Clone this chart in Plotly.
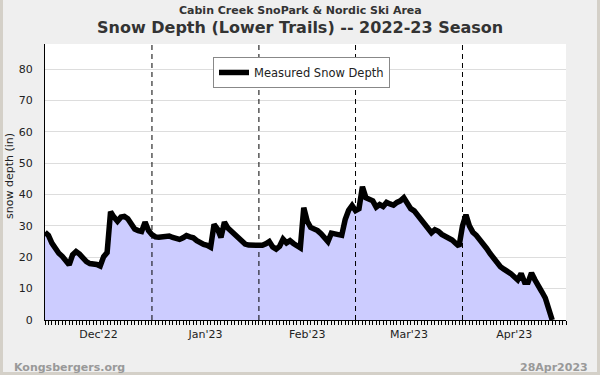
import plotly.graph_objects as go
import pandas as pd

# ---- data (daily snow depth, inches, starting 2022-12-01) ----
start_date = "2022-12-01"
snow_dec = [28, 27, 24.5, 22.5, 21.3, 20.3, 19.2, 17.6, 20.8, 21.8,
            21, 19.6, 18.6, 18, 17.9, 17.7, 17.2, 20.2, 21.5, 34.5,
            32.8, 31.5, 32.8, 33, 32.3, 30.5, 29, 28.5, 28.2, 31.2, 28.5]
snow_jan = [27.2, 26.5, 26.4, 26.4, 26.7, 26.8, 26.3, 26, 25.7, 26.2,
            26.9, 26.5, 26.2, 25.3, 24.6, 24.1, 23.8, 23.2, 30.5, 29,
            26.3, 31.2, 29.3, 28.2, 27.2, 26, 25, 24.2, 23.9, 23.8, 23.8]
snow_feb = [23.8, 23.8, 24.3, 25, 23.3, 22.6, 23.5, 25.8, 24.6, 25.3,
            24.4, 23.7, 23, 35.8, 31.5, 29.5, 29, 28.5, 27.5, 26,
            25, 27.7, 27.6, 27.4, 27, 32, 35, 36.5]
snow_mar = [34.9, 35.5, 42.5, 39, 38.5, 38, 36, 36.8, 36.2, 37.5,
            37, 36.6, 37.5, 38, 39, 37, 35.5, 34.8, 33.3, 31.8,
            30.2, 29, 27.8, 28.8, 28.3, 27.3, 26.8, 26.2, 25.5, 24.5, 23.5]
snow_apr = [30, 33.5, 30, 28, 27, 25.7, 24.5, 22.8, 21.2, 19.7,
            18, 17, 16.2, 15.6, 14.8, 13.8, 12.8, 14.8, 12, 12,
            15, 12.8, 10.5, 9, 7, 3.5, 0]
snow_depth = snow_dec + snow_jan + snow_feb + snow_mar + snow_apr
dates = pd.date_range(start_date, periods=len(snow_depth), freq="D")

month_starts = ["2023-01-01", "2023-02-01", "2023-03-01", "2023-04-01"]
x_range = ["2022-12-01", "2023-05-01"]
y_ticks = [0, 10, 20, 30, 40, 50, 60, 70, 80]
y_range = [0, 88]

FONT = "DejaVu Sans"

fig = go.Figure()
fig.add_trace(go.Scatter(
    x=dates, y=snow_depth, mode="lines", fill="tozeroy",
    fillcolor="#ccccff", line=dict(width=0, color="#ccccff"),
    showlegend=False, hoverinfo="skip"))
fig.add_trace(go.Scatter(
    x=dates, y=snow_depth, mode="lines",
    line=dict(color="black", width=5.5),
    name="Measured Snow Depth"))

for m in month_starts:
    fig.add_shape(type="line", xref="x", yref="paper", x0=m, x1=m, y0=0, y1=1,
                  line=dict(color="black", width=1, dash="5px,4px"), layer="above")

# outer border of the picture
fig.add_shape(type="rect", xref="paper", yref="paper",
              x0=-45/521, x1=555/521, y0=-55/276, y1=331/276,
              line=dict(color="#d4d0c8", width=6), fillcolor="rgba(0,0,0,0)", layer="below")

fig.update_layout(
    width=600, height=375,
    margin=dict(l=45, r=34, t=44, b=55, autoexpand=False),
    paper_bgcolor="#efefef", plot_bgcolor="white",
    font=dict(family=FONT, size=11, color="#222"),
    legend=dict(x=(213-45)/521, y=0.953, xanchor="left", yanchor="top",
                bgcolor="white", bordercolor="#888", borderwidth=1,
                font=dict(size=11.5, color="#222"), itemwidth=30),
    xaxis=dict(type="date", range=x_range, dtick="M1", tick0="2022-12-01",
               tickformat="%b'%y", ticklabelmode="period", automargin=False,
               ticks="outside", ticklen=4, tickcolor="black",
               showline=True, linecolor="black", linewidth=1,
               showgrid=False, zeroline=False,
               tickfont=dict(size=11, color="#222"),
               minor=dict(dtick=86400000, ticks="outside", ticklen=4,
                          tickcolor="black", showgrid=False)),
    yaxis=dict(range=y_range, tickvals=y_ticks, showgrid=True, automargin=False,
               gridcolor="#dddddd", gridwidth=1, showline=True,
               linecolor="black", linewidth=1, zeroline=False, ticks="",
               ticklabelstandoff=9, tickfont=dict(size=11, color="#222")),
    annotations=[
        dict(text="<b>Cabin Creek SnoPark &amp; Nordic Ski Area</b>", xref="paper", yref="paper",
             x=255/521, y=(320-11)/276, xanchor="center", yanchor="middle",
             showarrow=False, font=dict(size=11, color="#333")),
        dict(text="<b>Snow Depth (Lower Trails) -- 2022-23 Season</b>", xref="paper", yref="paper",
             x=255/521, y=(320-28)/276, xanchor="center", yanchor="middle",
             showarrow=False, font=dict(size=16, color="#333")),
        dict(text="snow depth (in)", xref="paper", yref="paper",
             x=-36/521, y=(320-176)/276, xanchor="center", yanchor="middle",
             textangle=-90, showarrow=False, font=dict(size=11, color="#222")),
        dict(text="<b>Kongsbergers.org</b>", xref="paper", yref="paper",
             x=-33/521, y=(320-367)/276, xanchor="left", yanchor="middle",
             showarrow=False, font=dict(size=11, color="#999")),
        dict(text="<b>28Apr2023</b>", xref="paper", yref="paper",
             x=545/521, y=(320-367)/276, xanchor="right", yanchor="middle",
             showarrow=False, font=dict(size=11, color="#999")),
    ],
)

fig.write_html("out.html", config={"displayModeBar": False},
               post_script="document.body.style.margin='0';document.body.style.padding='0';")
